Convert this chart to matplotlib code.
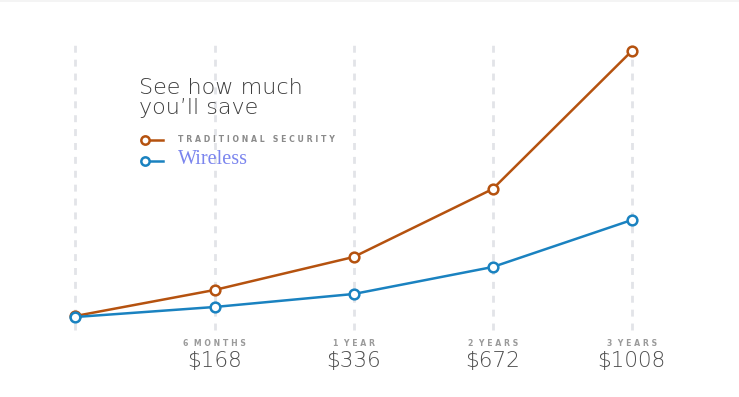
import matplotlib
matplotlib.use('Agg')
from matplotlib import pyplot as plt

periods = ['', '6 MONTHS', '1 YEAR', '2 YEARS', '3 YEARS']
prices = ['', '$168', '$336', '$672', '$1008']
traditional = [81, 107, 140, 208, 346]
wireless = [80, 90, 103, 130, 177]

orange = '#b5520f'
blue = '#1a82c0'

# pixel -> data helpers for the category axis
x0, step = 75.4, 139.1
def px(p):
    return (p - x0) / step

fig = plt.figure(figsize=(7.39, 3.97), dpi=100)
ax = fig.add_axes([0, 0, 1, 1])
ax.set_xlim(px(0), px(739))
ax.set_ylim(0, 397)
ax.axis('off')

# faint band at the top edge
ax.axhspan(395, 397, color='#f4f4f4', lw=0, zorder=0)

xs = list(range(len(periods)))
for x in xs:
    ax.plot([x, x], [67, 357], color='#e2e4e8', lw=2, ls=(0, (2.5, 2.5)), zorder=1)

ax.plot(xs, traditional, color=orange, lw=1.8, marker='o', ms=7,
        mfc='white', mec=orange, mew=1.8, zorder=3)
ax.plot(xs, wireless, color=blue, lw=1.8, marker='o', ms=7,
        mfc='white', mec=blue, mew=1.8, zorder=3)

for x, p, v in zip(xs, periods, prices):
    if not p:
        continue
    spaced = '  '.join(' '.join(w) for w in p.split(' '))
    ax.text(x, 54, spaced, ha='center', va='center', fontsize=5.6,
            color='#9a9a9a', family='DejaVu Sans', fontweight='bold')
    ax.text(x, 36, v, ha='center', va='center', fontsize=15.5,
            color='#4d4d4d', family='DejaVu Sans', fontweight='light')

# title and legend
ax.text(px(139), 299, 'See how much\nyou\u2019ll save',
        ha='left', va='center', fontsize=16, color='#3d3d3d',
        family='DejaVu Sans', fontweight='light', linespacing=0.98)

ax.plot([px(145), px(163)], [257, 257], color=orange, lw=1.8)
ax.plot([px(145)], [257], 'o', ms=6, mfc='white', mec=orange, mew=1.8)
ax.plot([px(145), px(163)], [236, 236], color=blue, lw=1.8)
ax.plot([px(145)], [236], 'o', ms=6, mfc='white', mec=blue, mew=1.8)
ax.text(px(178), 257, 'T R A D I T I O N A L   S E C U R I T Y', ha='left',
        va='center', fontsize=5.6, color='#8a8a8a', family='DejaVu Sans',
        fontweight='bold')
ax.text(px(178), 237, 'Wireless', ha='left', va='center', fontsize=14.5,
        color='#7b85ee', family='Liberation Serif')

plt.savefig('out.png')
plt.close()
